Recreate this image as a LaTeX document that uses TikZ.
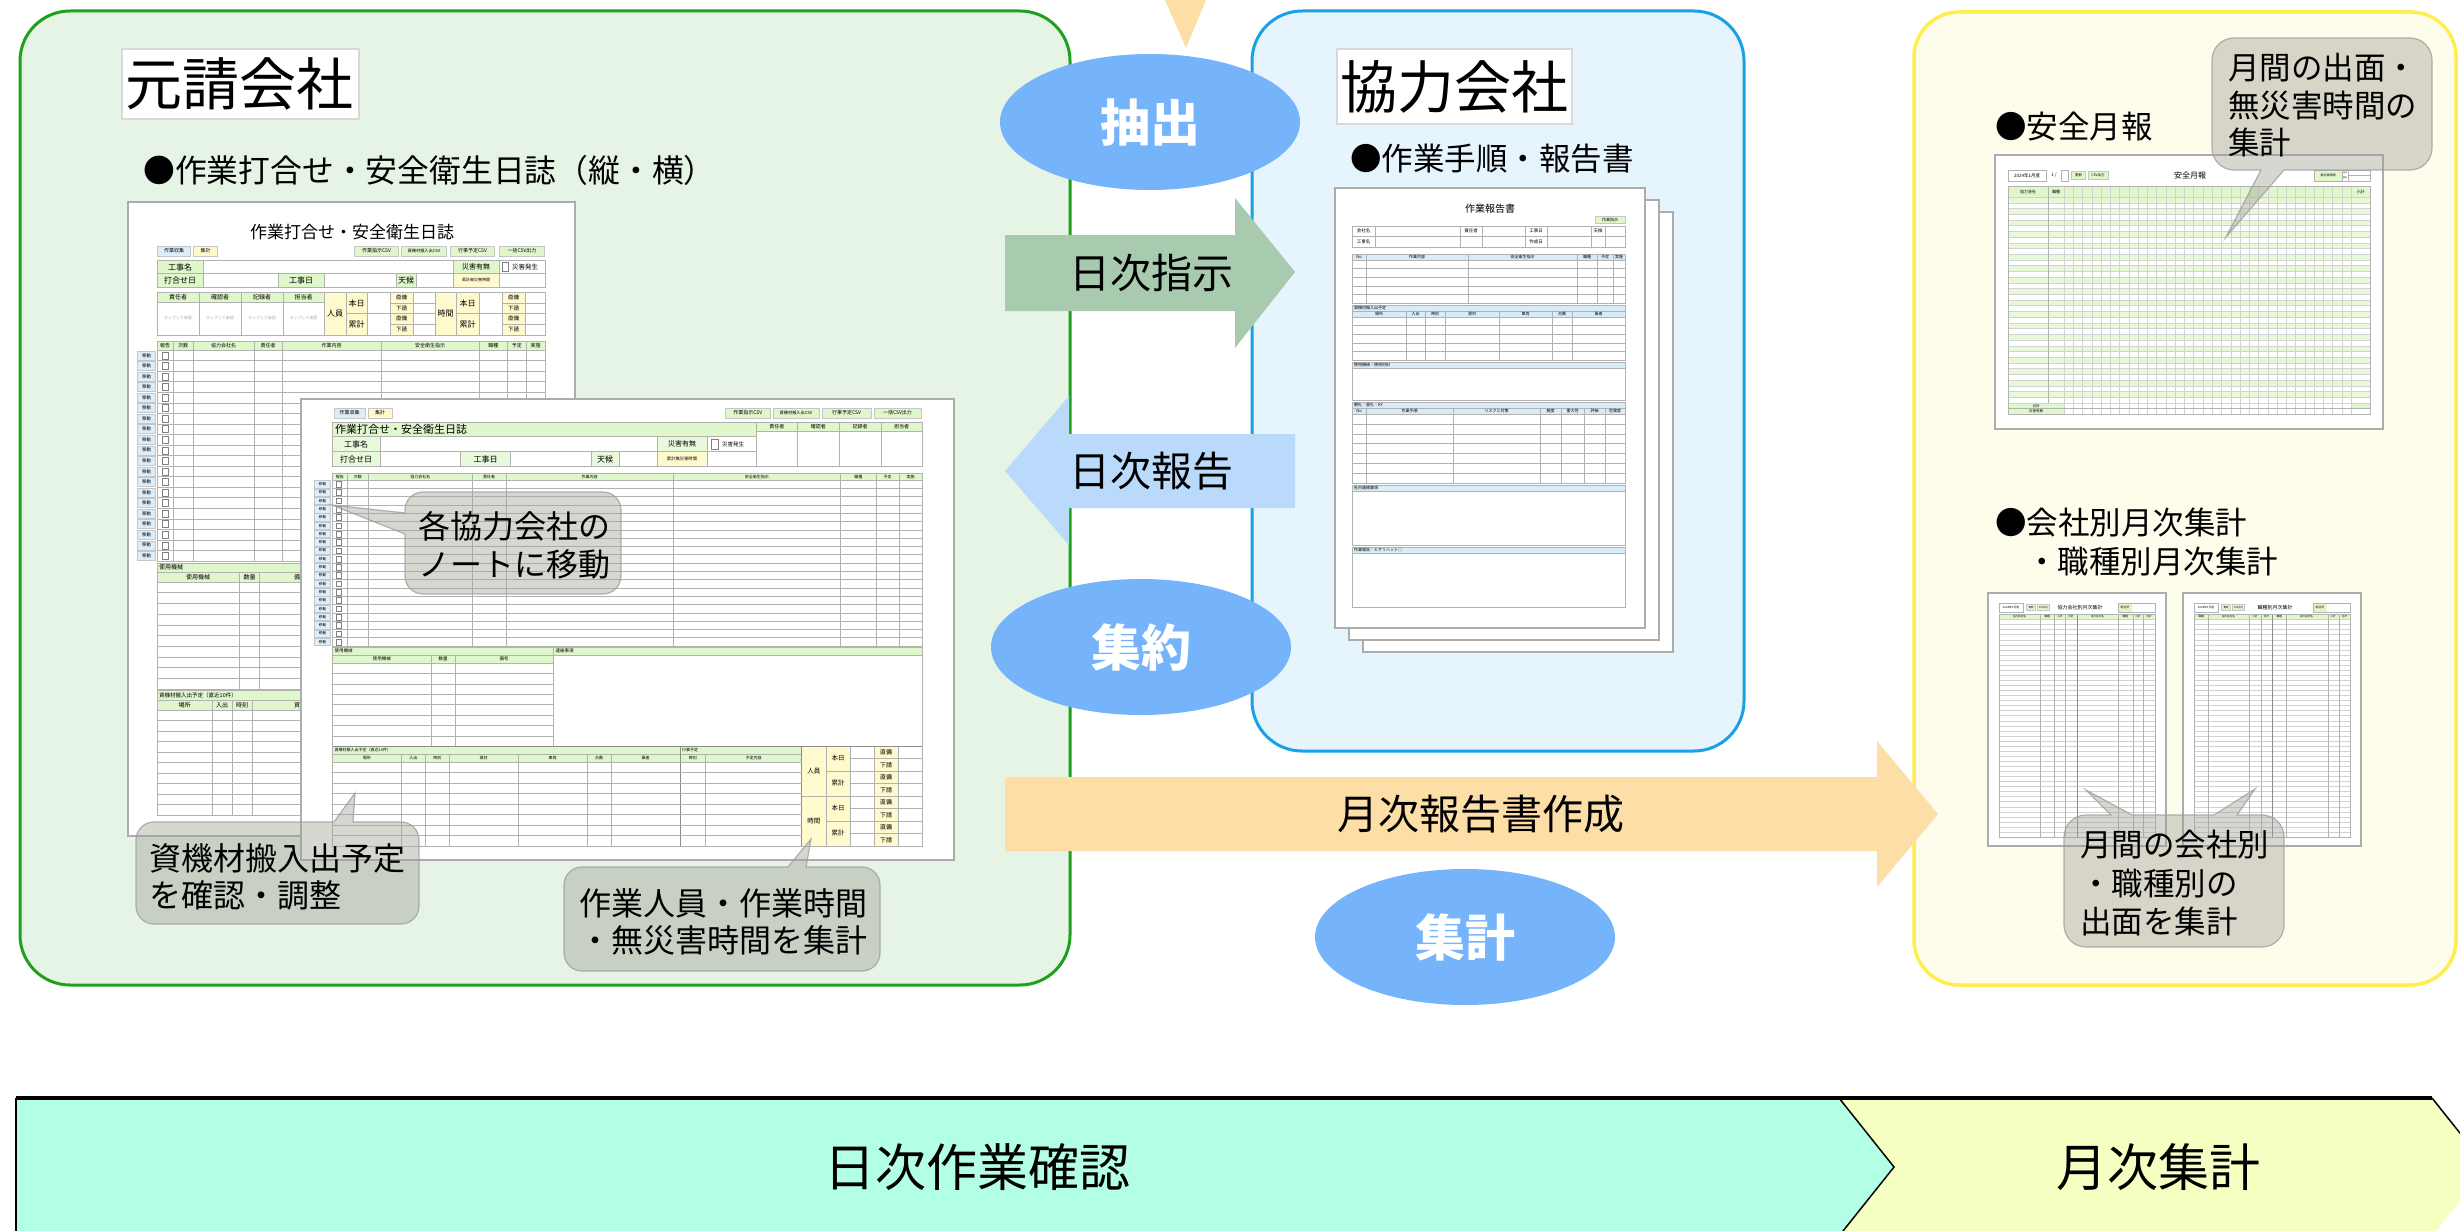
\documentclass[tikz,border=0pt]{standalone}
\usepackage{fontspec}
\setmainfont{Noto Sans CJK JP}
\usetikzlibrary{shapes.geometric}
\definecolor{gbox}{RGB}{230,244,230}
\definecolor{gline}{RGB}{30,160,30}
\definecolor{bbox}{RGB}{229,244,253}
\definecolor{bline}{RGB}{25,160,230}
\definecolor{ybox}{RGB}{254,252,235}
\definecolor{yline}{RGB}{255,238,80}
\definecolor{ell}{RGB}{117,179,250}
\definecolor{arrg}{RGB}{168,203,176}
\definecolor{arrb}{RGB}{185,218,250}
\definecolor{arro}{RGB}{253,222,166}
\definecolor{mint}{RGB}{178,255,229}
\definecolor{lyel}{RGB}{246,255,194}
\definecolor{hg}{RGB}{224,247,204}
\definecolor{hy}{RGB}{255,250,205}
\definecolor{hb}{RGB}{222,237,250}
\definecolor{hbl}{RGB}{216,236,248}
\definecolor{cfill}{RGB}{160,160,150}
\newcommand\fsz[1]{\fontsize{#1}{#1}\selectfont}
% x1 y1 x2 y2 r top right bottom left
\newcommand\callpath[9]{({#1+#5},#2) #6 -- ({#3-#5},#2) arc[start angle=270,end angle=360,radius=#5] #7 -- (#3,{#4-#5}) arc[start angle=0,end angle=90,radius=#5] #8 -- ({#1+#5},#4) arc[start angle=90,end angle=180,radius=#5] #9 -- (#1,{#2+#5}) arc[start angle=180,end angle=270,radius=#5] -- cycle}
\tikzset{
  frm/.style={draw=gray!65, fill=white, line width=1.5},
  grd/.style={draw=gray!60, line width=0.5},
  lgrd/.style={draw=gray!35, line width=0.4},
  dk/.style={draw=gray!90, line width=0.8},
  btn/.style={draw=gray!45, line width=0.4, inner sep=0, minimum height=10, font=\fsz{5}},
  tx/.style={inner sep=0, font=\fsz{6}},
  tg/.style={inner sep=0, font=\fsz{4}, text=gray!70},
  callout/.style={fill=cfill, fill opacity=0.42, draw=gray!75, draw opacity=0.8, line width=1.2},
  ctext/.style={inner sep=0, align=left, anchor=west, font=\fontsize{32}{38.5}\selectfont},
  bigell/.style={ellipse, fill=ell, minimum width=300, minimum height=136, inner sep=0, text=white, font=\fsz{50}\bfseries},
  arrtext/.style={inner sep=0, font=\fsz{41}},
  head/.style={anchor=west, inner sep=0, font=\fsz{31.5}},
  ttlbox/.style={draw=gray!30, line width=2, fill=white, anchor=north west, align=left, inner xsep=3, inner ysep=0, font=\fsz{57}},
}
\begin{document}
\begin{tikzpicture}[x=1pt,y=-1pt]
\useasboundingbox (0,0) rectangle (2460,1231);
\fill[white] (0,0) rectangle (2460,1231);

% ---------- big boxes
\draw[draw=gline, fill=gbox, line width=3, rounded corners=50] (20,11) rectangle (1070,985);
\draw[draw=bline, fill=bbox, line width=3, rounded corners=50] (1252,11) rectangle (1744,751);
\draw[draw=yline, fill=ybox, line width=3.5, rounded corners=45] (1914,12) rectangle (2456,985);

% ---------- titles
\node[ttlbox, minimum height=70, text width=231] (gen) at (121,48) {元請会社};
\node[ttlbox, minimum height=75, text width=229] (kyo) at (1336,48) {協力会社};
\node[head, font=\fsz{31.8}] (h1) at (143,170) {●作業打合せ・安全衛生日誌（縦・横）};
\node[head] (h2) at (1350,159) {●作業手順・報告書};
\node[head] (h3) at (1995,127) {●安全月報};
\node[head] (h4) at (1995,523) {●会社別月次集計};
\node[head] (h5) at (2026,562) {・職種別月次集計};

% ================= FORM 1 (portrait)
\draw[frm] (128,202) rectangle (575,836);
\node[tx, font=\fsz{17}] (f1t) at (352,232) {作業打合せ・安全衛生日誌};
\node[btn, fill=hb, minimum width=33] (f1b1) at (174,251) {作業収集};
\node[btn, fill=hy, minimum width=24] (f1b2) at (205.5,251) {集計};
\node[btn, fill=hg, minimum width=44] (f1b3) at (376.5,251) {作業指示CSV};
\node[btn, fill=hg, minimum width=45, font=\fsz{4.2}] (f1b4) at (424,251) {資機材搬入出CSV};
\node[btn, fill=hg, minimum width=44] (f1b5) at (472.5,251) {行事予定CSV};
\node[btn, fill=hg, minimum width=45] (f1b6) at (522,251) {一括CSV出力};
% table A
\fill[hg] (157,260) rectangle (203,287);
\fill[hg] (453,260) rectangle (499,273.5);
\fill[hy] (453,273.5) rectangle (499,287);
\fill[hg] (278,273.5) rectangle (324,287);
\fill[hg] (396,273.5) rectangle (416,287);
\draw[grd] (157,260) rectangle (545,287);
\draw[grd] (157,273.5) -- (545,273.5);
\foreach \x in {203,453,499} \draw[grd] (\x,260) -- (\x,287);
\foreach \x in {278,324,396,416} \draw[grd] (\x,273.5) -- (\x,287);
\node[tx, font=\fsz{8}] (f1a1) at (180,267) {工事名};
\node[tx, font=\fsz{8}] (f1a2) at (180,280) {打合せ日};
\node[tx, font=\fsz{8}] (f1a3) at (301,280) {工事日};
\node[tx, font=\fsz{8}] (f1a4) at (406,280) {天候};
\node[tx, font=\fsz{7}] (f1a5) at (476,267) {災害有無};
\node[tx, font=\fsz{4}] (f1a6) at (476,280) {累計無災害時間};
\draw[gray] (502,262.5) rectangle (508.5,271);
\node[tx, font=\fsz{6.5}] (f1a7) at (525,267) {災害発生};
% table B
\fill[hg] (157,292) rectangle (324,302.5);
\fill[hy] (324,292) rectangle (367,335);
\fill[hy] (390,292) rectangle (413,335);
\fill[hy] (435,292) rectangle (479,335);
\fill[hy] (502,292) rectangle (525,335);
\draw[grd] (157,292) rectangle (545,335);
\draw[grd] (157,302.5) -- (324,302.5);
\foreach \x in {199,241,283,324,346,367,390,413,435,456,479,502,525} \draw[grd] (\x,292) -- (\x,335);
\draw[grd] (346,313.5) -- (435,313.5);
\draw[grd] (456,313.5) -- (545,313.5);
\foreach \y in {302.75,324.25} {\draw[grd] (390,\y) -- (435,\y); \draw[grd] (502,\y) -- (545,\y);}
\foreach \t/\x [count=\i] in {責任者/178,確認者/220,記録者/262,担当者/303.5} {
  \node[tx, font=\fsz{6}] (f1bh\i) at (\x,297.3) {\t};
  \node[tg] (f1bg\i) at (\x,318) {タップして承認};
}
\node[tx, font=\fsz{8}] (f1n1) at (335,313.5) {人員};
\node[tx, font=\fsz{8}] (f1n2) at (356.5,303) {本日};
\node[tx, font=\fsz{8}] (f1n3) at (356.5,324) {累計};
\node[tx, font=\fsz{8}] (f1n4) at (445.5,313.5) {時間};
\node[tx, font=\fsz{8}] (f1n5) at (467.5,303) {本日};
\node[tx, font=\fsz{8}] (f1n6) at (467.5,324) {累計};
\foreach \t/\y [count=\i] in {直傭/297.4,下請/308.1,直傭/318.9,下請/329.6} {
  \node[tx, font=\fsz{5.5}] (f1p\i) at (401.5,\y) {\t};
  \node[tx, font=\fsz{5.5}] (f1q\i) at (513.5,\y) {\t};
}
% table C
\fill[hg] (157,341) rectangle (545,350);
\draw[grd] (157,341) rectangle (545,561);
\foreach \x in {173.5,193,254,282.5,381,479,507.6,526} \draw[grd] (\x,341) -- (\x,561);
\foreach \k in {0,...,19} \draw[grd] (157,{350+\k*10.55}) -- (545,{350+\k*10.55});
\foreach \t/\x [count=\i] in {報告/165.2,次数/183.2,協力会社名/223.5,責任者/268.2,作業内容/331.7,安全衛生指示/430,職種/493.3,予定/516.8,実施/535.5}
  \node[tx, font=\fsz{5}] (f1ch\i) at (\x,345.5) {\t};
\foreach \k in {0,...,19} {
  \node[btn, fill=hb, minimum width=18, minimum height=9, font=\fsz{4.5}] (f1m\k) at (146.5,{355.3+\k*10.55}) {移動};
  \draw[gray] (162.5,{351.8+\k*10.55}) rectangle (168.5,{358.8+\k*10.55});
}
% table D
\fill[hg] (157,563) rectangle (350,582);
\draw[grd] (157,563) rectangle (350,689);
\draw[grd] (157,572) -- (350,572);
\foreach \x in {239.5,259.6} \draw[grd] (\x,572) -- (\x,689);
\foreach \k in {0,...,9} \draw[grd] (157,{582+\k*10.7}) -- (350,{582+\k*10.7});
\node[tx, anchor=west, font=\fsz{6}] (f1d0) at (159,567.5) {使用機械};
\node[tx, font=\fsz{6}] (f1d1) at (198,577) {使用機械};
\node[tx, font=\fsz{6}] (f1d2) at (249.5,577) {数量};
\node[tx, font=\fsz{6}] (f1d3) at (300,577) {備考};
% table E
\fill[hg] (157,690) rectangle (350,710);
\draw[grd] (157,690) rectangle (350,815);
\draw[grd] (157,700) -- (350,700);
\foreach \x in {212,232,252} \draw[grd] (\x,700) -- (\x,815);
\foreach \k in {0,...,9} \draw[grd] (157,{710+\k*10.5}) -- (350,{710+\k*10.5});
\node[tx, anchor=west, font=\fsz{5.5}] (f1e0) at (159,695) {資機材搬入出予定（直近10件）};
\node[tx, font=\fsz{6}] (f1e1) at (184.5,705) {場所};
\node[tx, font=\fsz{6}] (f1e2) at (222,705) {入出};
\node[tx, font=\fsz{6}] (f1e3) at (242,705) {時刻};
\node[tx, font=\fsz{6}] (f1e4) at (300,705) {資材};

% ================= FORM 2 (landscape)
\draw[frm] (301,399) rectangle (954,860);
\node[btn, fill=hb, minimum width=31] (f2b1) at (349.5,413) {作業収集};
\node[btn, fill=hy, minimum width=24] (f2b2) at (380,413) {集計};
\node[btn, fill=hg, minimum width=45.5] (f2b3) at (747.75,413) {作業指示CSV};
\node[btn, fill=hg, minimum width=46, font=\fsz{4.2}] (f2b4) at (796,413) {資機材搬入出CSV};
\node[btn, fill=hg, minimum width=49] (f2b5) at (846.5,413) {行事予定CSV};
\node[btn, fill=hg, minimum width=47] (f2b6) at (897.5,413) {一括CSV出力};
% top table
\fill[hg] (332.5,422) rectangle (756,436.5);
\fill[hg] (756,422) rectangle (922,431.5);
\fill[hg!70] (332.5,436.5) rectangle (380,466);
\fill[hg!70] (657,436.5) rectangle (707,451.5);
\fill[hy] (657,451.5) rectangle (707,466);
\fill[hg!70] (460.5,451.5) rectangle (510.5,466);
\fill[hg!70] (591,451.5) rectangle (619.5,466);
\draw[grd] (332.5,422) rectangle (922,466);
\draw[grd] (332.5,436.5) -- (756,436.5);
\draw[grd] (332.5,451.5) -- (756,451.5);
\draw[grd] (756,431.5) -- (922,431.5);
\foreach \x in {756,797.5,839,881} \draw[grd] (\x,422) -- (\x,466);
\foreach \x in {380,657,707} \draw[grd] (\x,436.5) -- (\x,466);
\foreach \x in {460.5,510.5,591,619.5} \draw[grd] (\x,451.5) -- (\x,466);
\node[tx, anchor=west, font=\fsz{11}] (f2t) at (335,429.5) {作業打合せ・安全衛生日誌};
\foreach \t/\x [count=\i] in {責任者/776.75,確認者/818.25,記録者/860,担当者/901.5}
  \node[tx, font=\fsz{5}] (f2r\i) at (\x,426.8) {\t};
\node[tx, font=\fsz{8}] (f2a1) at (356,444) {工事名};
\node[tx, font=\fsz{8}] (f2a2) at (356,459) {打合せ日};
\node[tx, font=\fsz{8}] (f2a3) at (485.5,459) {工事日};
\node[tx, font=\fsz{8}] (f2a4) at (605,459) {天候};
\node[tx, font=\fsz{7}] (f2a5) at (682,444) {災害有無};
\node[tx, font=\fsz{4.3}] (f2a6) at (682,459) {累計無災害時間};
\draw[gray] (711,439.5) rectangle (718,449);
\node[tx, font=\fsz{5.5}] (f2a7) at (733,444) {災害発生};
% main table
\fill[hg] (332.5,473) rectangle (922,480);
\draw[grd] (332.5,473) rectangle (922,646);
\foreach \x in {347,368.7,472,506.4,673,840.5,876,899} \draw[grd] (\x,473) -- (\x,646);
\foreach \k in {0,...,19} \draw[grd] (332.5,{480+\k*8.3}) -- (922,{480+\k*8.3});
\foreach \t/\x [count=\i] in {報告/339.75,次数/357.85,協力会社名/420.35,責任者/489.2,作業内容/589.7,安全衛生指示/756.75,職種/858.25,予定/887.5,実施/910.5}
  \node[tx, font=\fsz{4}] (f2ch\i) at (\x,476.5) {\t};
\foreach \k in {0,...,19} {
  \node[btn, fill=hb, minimum width=16, minimum height=7.4, font=\fsz{3.6}] (f2m\k) at (322.5,{484.15+\k*8.3}) {移動};
  \draw[gray] (336.5,{481.3+\k*8.3}) rectangle (341.5,{487+\k*8.3});
}
% 使用機械 / 連絡事項
\fill[hg] (332.5,647) rectangle (553.5,663);
\fill[hg] (553.5,647) rectangle (922,655);
\draw[grd] (332.5,647) rectangle (922,746);
\draw[grd] (553.5,647) -- (553.5,746);
\draw[grd] (332.5,655) -- (922,655);
\foreach \x in {431,455} \draw[grd] (\x,655) -- (\x,746);
\foreach \k in {0,...,8} \draw[grd] (332.5,{663+\k*10.4}) -- (553.5,{663+\k*10.4});
\node[tx, anchor=west, font=\fsz{4.5}] (f2d0) at (334.5,651) {使用機械};
\node[tx, font=\fsz{4.5}] (f2d1) at (381.75,659) {使用機械};
\node[tx, font=\fsz{4.5}] (f2d2) at (443,659) {数量};
\node[tx, font=\fsz{4.5}] (f2d3) at (504,659) {備考};
\node[tx, anchor=west, font=\fsz{4.5}] (f2d4) at (555.5,651) {連絡事項};
% bottom section
\fill[hg] (332.5,746) rectangle (801.5,762);
\fill[hy] (801.5,746) rectangle (850,846);
\fill[hy] (874,746) rectangle (898,846);
\draw[grd] (332.5,746) rectangle (922,846);
\draw[grd] (332.5,754.5) -- (801.5,754.5);
\foreach \x in {680,801.5} \draw[dk] (\x,746) -- (\x,846);
\foreach \x in {401,425.5,449,518,587,611,705.6} \draw[grd] (\x,754.5) -- (\x,846);
\foreach \k in {0,...,7} \draw[grd] (332.5,{762+\k*10.5}) -- (801.5,{762+\k*10.5});
\foreach \x in {826,850,874,898} \draw[grd] (\x,746) -- (\x,846);
\foreach \k in {1,...,7} \draw[grd] (850,{746+\k*12.5}) -- (922,{746+\k*12.5});
\foreach \k in {2,4,6} \draw[grd] (826,{746+\k*12.5}) -- (850,{746+\k*12.5});
\draw[grd] (801.5,796) -- (826,796);
\draw[dk] (332.5,746) -- (922,746);
\node[tx, anchor=west, font=\fsz{4}] (f2e0) at (334.5,750.3) {資機材搬入出予定（直近10件）};
\foreach \t/\x [count=\i] in {場所/366.75,入出/413.25,時刻/437.25,資材/483.5,車両/552.5,台数/599,業者/645.5,時刻/692.8,予定内容/753.5}
  \node[tx, font=\fsz{4}] (f2eh\i) at (\x,758.3) {\t};
\node[tx, anchor=west, font=\fsz{4}] (f2e9) at (682,750.3) {行事予定};
\node[tx, font=\fsz{6.5}] (f2n1) at (813.75,771) {人員};
\node[tx, font=\fsz{6.5}] (f2n2) at (813.75,821) {時間};
\foreach \t/\y [count=\i] in {本日/758.5,累計/783.5,本日/808.5,累計/833.5}
  \node[tx, font=\fsz{6.5}] (f2o\i) at (838,\y) {\t};
\foreach \t/\y [count=\i] in {直傭/752.25,下請/764.75,直傭/777.25,下請/789.75,直傭/802.25,下請/814.75,直傭/827.25,下請/839.75}
  \node[tx, font=\fsz{6}] (f2p\i) at (886,\y) {\t};

% ================= REPORT DOC
\draw[frm, line width=1.2] (1363,212) rectangle (1673,652);
\draw[frm, line width=1.2] (1349,200) rectangle (1659,640);
\draw[frm, line width=1.2] (1335,188) rectangle (1645,628);
\node[tx, font=\fsz{10}] (rt) at (1490,209) {作業報告書};
\node[btn, fill=hg, minimum width=30, minimum height=7, font=\fsz{4}] (rtag) at (1610,219.5) {作業指示};
\draw[grd] (1352,226) rectangle (1625,247);
\draw[grd] (1352,236.5) -- (1625,236.5);
\foreach \x in {1375,1460,1482,1525,1547,1591,1605} \draw[grd] (\x,226) -- (\x,247);
\foreach \t/\x/\y [count=\i] in {会社名/1363.5/231.25,工事名/1363.5/241.75,責任者/1471/231.25,工事日/1536/231.25,作成日/1536/241.75,天候/1598/231.25}
  \node[tx, font=\fsz{4.5}] (rh\i) at (\x,\y) {\t};
\fill[hbl] (1352,254) rectangle (1625,260);
\draw[grd] (1352,254) rectangle (1625,303);
\foreach \x in {1366,1468,1577,1597,1613} \draw[grd] (\x,254) -- (\x,303);
\foreach \y in {260,268.6,277.2,285.8,294.4} \draw[grd] (1352,\y) -- (1625,\y);
\foreach \t/\x [count=\i] in {No/1359,作業内容/1417,安全衛生指示/1522.5,職種/1587,予定/1605,実施/1619}
  \node[tx, font=\fsz{4}] (rc\i) at (\x,257) {\t};
\fill[hbl] (1352,305) rectangle (1625,317);
\draw[grd] (1352,305) rectangle (1625,360);
\foreach \y in {311,317,325.6,334.2,342.8,351.4} \draw[grd] (1352,\y) -- (1625,\y);
\foreach \x in {1406,1425,1445,1499,1552,1572} \draw[grd] (\x,311) -- (\x,360);
\node[tx, anchor=west, font=\fsz{4}] (rs0) at (1354,308) {資機材搬入出予定};
\foreach \t/\x [count=\i] in {場所/1379,入出/1415.5,時刻/1435,資材/1472,車両/1525.5,台数/1562,業者/1598.5}
  \node[tx, font=\fsz{4}] (rs\i) at (\x,314) {\t};
\fill[hbl] (1352,362) rectangle (1625,368);
\draw[grd] (1352,362) rectangle (1625,400);
\draw[grd] (1352,368) -- (1625,368);
\node[tx, anchor=west, font=\fsz{4}] (ru0) at (1354,365) {使用機械・使用材料};
\fill[hbl] (1352,402) rectangle (1625,414);
\draw[grd] (1352,402) rectangle (1625,483);
\foreach \y in {408,414,423.9,433.8,443.7,453.6,463.5,473.4} \draw[grd] (1352,\y) -- (1625,\y);
\foreach \x in {1366,1453,1540,1561,1584,1605} \draw[grd] (\x,408) -- (\x,483);
\node[tx, anchor=west, font=\fsz{4}] (rk0) at (1354,405) {朝礼・昼礼・KY};
\foreach \t/\x [count=\i] in {No/1359,作業手順/1409.5,リスクと対策/1496.5,頻度/1550.5,重大性/1572.5,評価/1594.5,危険度/1615}
  \node[tx, font=\fsz{4}] (rk\i) at (\x,411) {\t};
\fill[hbl] (1352,485) rectangle (1625,491);
\draw[grd] (1352,485) rectangle (1625,545);
\draw[grd] (1352,491) -- (1625,491);
\node[tx, anchor=west, font=\fsz{4}] (rm0) at (1354,488) {社内連絡事項};
\fill[hbl] (1352,547) rectangle (1625,553);
\draw[grd] (1352,547) rectangle (1625,607);
\draw[grd] (1352,553) -- (1625,553);
\node[tx, anchor=west, font=\fsz{4}] (rn0) at (1354,550) {作業報告・ヒヤリハット□};

% ================= SAFETY MONTHLY SHEET
\draw[frm] (1995,155) rectangle (2383,429);
\draw[grd] (2008,170) rectangle (2046,181);
\node[tx, font=\fsz{4.5}] (sm1) at (2027,175.5) {2024年1月度};
\node[tx, font=\fsz{4.5}] (sm2) at (2054,175.5) {1 /};
\draw[grd] (2061,170) rectangle (2068,181);
\node[btn, fill=hg, minimum width=14, minimum height=8, font=\fsz{3.5}] (sm3) at (2078.5,175.5) {更新};
\node[btn, fill=hg, minimum width=20, minimum height=8, font=\fsz{3.5}] (sm4) at (2098,175.5) {CSV出力};
\node[tx, font=\fsz{8}] (sm5) at (2190,175.5) {安全月報};
\fill[hg] (2314,170) rectangle (2342,181);
\draw[grd] (2314,170) rectangle (2370,181);
\draw[grd] (2342,170) -- (2342,181);
\draw[grd] (2348,170) -- (2348,181);
\draw[grd] (2348,175.5) -- (2370,175.5);
\node[tx, font=\fsz{3}] (sm6) at (2328,175.5) {無災害時間};
\node[tx, font=\fsz{2}] (sm7) at (2345,172.8) {当月};
\node[tx, font=\fsz{2}] (sm8) at (2345,178.2) {累計};
\fill[hg] (2008,186) rectangle (2370,197);
\foreach \k in {0,...,17} \fill[hg!75] (2008,{197+\k*11.44}) rectangle (2370,{202.72+\k*11.44});
\fill[hg] (2008,403) rectangle (2064,414);
\fill[hg] (2351,403) rectangle (2370,408.5);
\foreach \k in {0,...,36} \draw[lgrd] (2008,{197+\k*5.72}) -- (2370,{197+\k*5.72});
\foreach \k in {0,...,31} \draw[lgrd] ({2064+\k*9.26},186) -- ({2064+\k*9.26},414);
\draw[grd] (2008,408.5) -- (2370,408.5);
\draw[grd] (2048,186) -- (2048,403);
\draw[grd] (2008,186) rectangle (2370,414);
\node[tx, font=\fsz{4}] (sm9) at (2028,191.5) {協力会社};
\node[tx, font=\fsz{4}] (sm10) at (2056,191.5) {職種};
\node[tx, font=\fsz{4}] (sm11) at (2360.5,191.5) {小計};
\node[tx, font=\fsz{3.5}] (sm12) at (2036,405.7) {合計};
\node[tx, font=\fsz{3.5}] (sm13) at (2036,411.2) {災害有無};

% ================= COMPANY / JOB SHEETS
\foreach \dx/\ttl/\pa/\pb/\pc/\pd/\pe/\pf/\pg/\ph/\ca/\cb/\cc/\cd/\ce/\cf [count=\s] in
  {0/協力会社別月次集計/協力会社名/2019.5/職種/2047.3/小計/2059.8/合計/2071/2040/2054.6/2065/2118.6/2133/2143.6,
   195/職種別月次集計/職種/2201.3/協力会社名/2228.5/小計/2255/合計/2266.5/2208/2249/2261/2286/2328/2339} {
  \draw[frm, line width=1.2] ({1988+\dx},593) rectangle ({2166+\dx},846);
  \draw[grd] ({1999+\dx},603) rectangle ({2023+\dx},612);
  \node[tx, font=\fsz{2.8}] (cs\s a) at ({2011+\dx},607.5) {2024年1月度};
  \node[btn, fill=hg, minimum width=9, minimum height=6, font=\fsz{2.5}] (cs\s b) at ({2031+\dx},607.5) {更新};
  \node[btn, fill=hg, minimum width=12, minimum height=6, font=\fsz{2.5}] (cs\s c) at ({2043.5+\dx},607.5) {CSV出力};
  \node[tx, font=\fsz{5}] (cs\s d) at ({2080+\dx},607.5) {\ttl};
  \fill[hg] ({2118+\dx},603) rectangle ({2132+\dx},612);
  \draw[grd] ({2118+\dx},603) rectangle ({2155+\dx},612);
  \node[tx, font=\fsz{3}] (cs\s e) at ({2125+\dx},607.5) {総合計};
  \fill[hg] ({1999+\dx},614) rectangle ({2155+\dx},619.5);
  \foreach \k in {0,...,43} \draw[lgrd] ({1999+\dx},{619.5+\k*5.06}) -- ({2155+\dx},{619.5+\k*5.06});
  \foreach \x in {\ca,\cb,\cc,\cd,\ce,\cf} \draw[grd] (\x,614) -- (\x,837);
  \draw[dk] ({2077+\dx},614) -- ({2077+\dx},837);
  \draw[grd] ({1999+\dx},614) rectangle ({2155+\dx},837);
  \node[tx, font=\fsz{2.6}] (cs\s f) at (\pb,616.75) {\pa};
  \node[tx, font=\fsz{2.6}] (cs\s g) at (\pd,616.75) {\pc};
  \node[tx, font=\fsz{2.6}] (cs\s h) at (\pf,616.75) {\pe};
  \node[tx, font=\fsz{2.6}] (cs\s i) at (\ph,616.75) {\pg};
  \node[tx, font=\fsz{2.6}] (cs\s j) at ({\pb+78},616.75) {\pa};
  \node[tx, font=\fsz{2.6}] (cs\s k) at ({\pd+78},616.75) {\pc};
  \node[tx, font=\fsz{2.6}] (cs\s l) at ({\pf+78},616.75) {\pe};
  \node[tx, font=\fsz{2.6}] (cs\s m) at ({\ph+78},616.75) {\pg};
}

% ================= ARROWS
\fill[arro] (1165,0) -- (1206,0) -- (1186,48) -- cycle;
\fill[arrg] (1005,235) -- (1235,235) -- (1235,198) -- (1295,272) -- (1235,348) -- (1235,311) -- (1005,311) -- cycle;
\node[arrtext] (a1) at (1151,273) {日次指示};
\fill[arrb] (1295,434) -- (1069,434) -- (1069,396) -- (1005,471) -- (1069,545) -- (1069,508) -- (1295,508) -- cycle;
\node[arrtext] (a2) at (1151,471) {日次報告};
\fill[arro] (1005,777) -- (1877,777) -- (1877,741) -- (1938,814) -- (1877,887) -- (1877,851) -- (1005,851) -- cycle;
\node[arrtext] (a3) at (1481,814) {月次報告書作成};

% ================= ELLIPSES
\node[bigell] (e1) at (1150,122) {抽出};
\node[bigell] (e2) at (1141,647) {集約};
\node[bigell] (e3) at (1465,937) {集計};

% ================= CALLOUTS
\path[callout] \callpath{405}{492}{621}{594}{18}{}{}{}{-- (405,534) -- (332,505) -- (405,513)};
\node[ctext] (c1) at (418,545.5) {各協力会社の\\ノートに移動};
\path[callout] \callpath{136}{822}{419}{924}{18}{-- (334,822) -- (355,793) -- (353,822)}{}{}{};
\node[ctext, font=\fontsize{32}{37}\selectfont] (c2) at (149,876.5) {資機材搬入出予定\\を確認・調整};
\path[callout] \callpath{564}{867}{880}{971}{18}{-- (788,867) -- (811,839) -- (806,867)}{}{}{};
\node[ctext, font=\fontsize{32}{37}\selectfont] (c3) at (579,921.5) {作業人員・作業時間\\・無災害時間を集計};
\path[callout] \callpath{2212}{38}{2432}{170}{22}{}{}{-- (2284,170) -- (2226,237) -- (2261,170)}{};
\node[ctext, font=\fontsize{31.5}{37.5}\selectfont] (c4) at (2228,105.5) {月間の出面・\\無災害時間の\\集計};
\path[callout] \callpath{2064}{815}{2284}{947}{22}{-- (2111,815) -- (2086,790) -- (2132,815) -- (2214,815) -- (2255,789) -- (2237,815)}{}{}{};
\node[ctext, font=\fontsize{31.5}{38.5}\selectfont] (c5) at (2080,883.5) {月間の会社別\\・職種別の\\出面を集計};

% ================= BOTTOM BANNER
\fill[mint] (16,1098) -- (1839,1098) -- (1894,1167) -- (1839,1236) -- (16,1236) -- cycle;
\fill[lyel] (1839,1098) -- (2432,1098) -- (2487,1167) -- (2432,1236) -- (1839,1236) -- (1894,1167) -- cycle;
\draw[black, line width=1.5] (16,1240) -- (16,1098);
\draw[black, line width=1.5] (1839,1098) -- (1894,1167) -- (1839,1236);
\draw[black, line width=1.5] (2432,1098) -- (2487,1167);
\draw[black, line width=3.5] (16,1098) -- (2432,1098);
\node[inner sep=0, font=\fsz{51}] (b1) at (977,1167) {日次作業確認};
\node[inner sep=0, font=\fsz{51}] (b2) at (2158,1167) {月次集計};
\end{tikzpicture}
\end{document}
